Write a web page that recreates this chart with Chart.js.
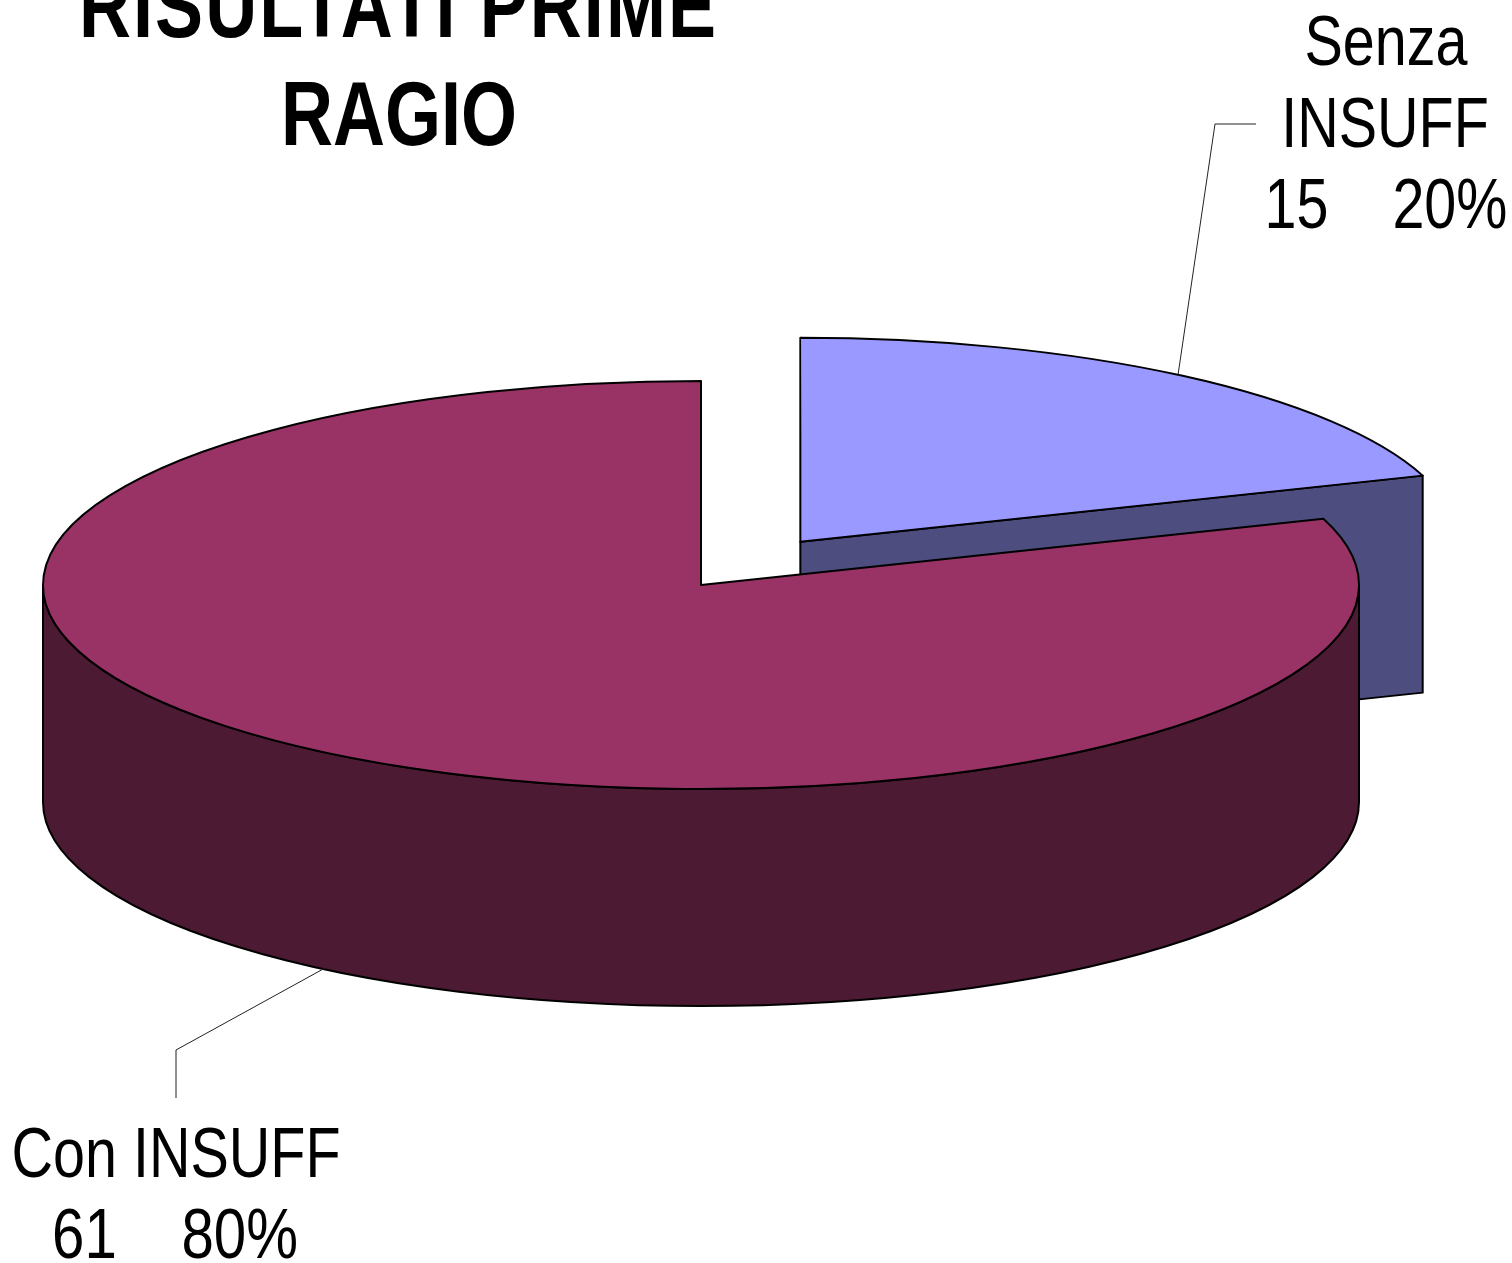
<!DOCTYPE html>
<html><head><meta charset="utf-8">
<style>html,body{margin:0;padding:0;background:#fff;overflow:hidden}canvas{display:block}</style>
<script src="https://cdn.jsdelivr.net/npm/chart.js@4"></script>
</head><body><canvas id="c" width="1512" height="1263"></canvas>
<script>
const categories = ['Senza INSUFF', 'Con INSUFF'];
const values = [15, 61];
const percents = ['20%', '80%'];
const titleLines = ['RISULTATI PRIME', 'RAGIO'];
const topColors = ['#9999FF', '#993366'];
const wallColors = ['#4D4D80', '#4D1A33'];
const explode = [212, 0];
const RY = 204, SX = 658 / 204, DEPTH = 217;

function geom(el) {
  const off = (el.options.offset || 0) / 4, mid = (el.startAngle + el.endAngle) / 2;
  const cx = el.x + Math.cos(mid) * off * SX, cy = el.y + Math.sin(mid) * off;
  return {cx, cy, a0: el.startAngle, a1: el.endAngle};
}
function pt(g, a, dy) { return [g.cx + Math.cos(a) * RY * SX, g.cy + Math.sin(a) * RY + (dy || 0)]; }
function stroke(ctx) { ctx.lineWidth = 2; ctx.strokeStyle = '#000'; ctx.lineJoin = 'round'; ctx.stroke(); }
function outline(ctx, g) {
  ctx.beginPath(); ctx.moveTo(g.cx, g.cy);
  ctx.ellipse(g.cx, g.cy, RY * SX, RY, 0, g.a0, g.a1);
  ctx.closePath(); stroke(ctx);
}
function label(ctx, str, x, y, narrow, spacing) {
  ctx.save(); ctx.letterSpacing = (spacing || 0) + 'px';
  ctx.translate(x, y); ctx.scale(narrow, 1); ctx.fillText(str, 0, 0); ctx.restore();
}
const pie3d = {
  id: 'pie3d',
  afterDatasetsUpdate(chart) {
    chart.getDatasetMeta(0).data.forEach(el => {
      const off = (el.options.offset || 0) / 4;
      el.outerRadius = RY - off * (1 - Math.sin(Math.min(Math.PI, el.circumference)));
    });
  },
  beforeDatasetsDraw(chart) {
    const ctx = chart.ctx, arcs = chart.getDatasetMeta(0).data;
    const b = geom(arcs[0]);
    const p = pt(b, b.a1), q = pt(b, b.a1, DEPTH);
    ctx.save();
    ctx.beginPath(); ctx.moveTo(b.cx, b.cy); ctx.lineTo(p[0], p[1]); ctx.lineTo(q[0], q[1]); ctx.lineTo(b.cx, b.cy + DEPTH); ctx.closePath();
    ctx.fillStyle = wallColors[0]; ctx.fill(); stroke(ctx);
    const m = geom(arcs[1]);
    ctx.beginPath();
    ctx.ellipse(m.cx, m.cy, RY * SX, RY, 0, 0, Math.PI);
    ctx.lineTo(m.cx - RY * SX, m.cy + DEPTH);
    ctx.ellipse(m.cx, m.cy + DEPTH, RY * SX, RY, 0, Math.PI, 0, true);
    ctx.closePath();
    ctx.fillStyle = wallColors[1]; ctx.fill(); stroke(ctx);
    ctx.lineWidth = 1; ctx.strokeStyle = '#222';
    ctx.beginPath(); ctx.moveTo(1178, 375); ctx.lineTo(1215, 124); ctx.lineTo(1256, 124); ctx.stroke();
    ctx.beginPath(); ctx.moveTo(325, 968); ctx.lineTo(176, 1050); ctx.lineTo(176, 1098); ctx.stroke();
    ctx.restore();
    const e = arcs[1];
    ctx.save();
    ctx.translate(e.x, e.y); ctx.scale(SX, 1); ctx.translate(-e.x, -e.y);
  },
  afterDatasetsDraw(chart) {
    const ctx = chart.ctx, arcs = chart.getDatasetMeta(0).data;
    ctx.restore();
    ctx.save();
    arcs.forEach(a => outline(ctx, geom(a)));
    ctx.fillStyle = '#000'; ctx.textAlign = 'center'; ctx.textBaseline = 'alphabetic';
    ctx.font = 'bold 90px "Liberation Sans"';
    label(ctx, titleLines[0], 398.5, 37, 0.8, 2.6);
    label(ctx, titleLines[1], 399, 145, 0.8);
    ctx.font = '71px "Liberation Sans"';
    const w = categories[0].split(' ');
    label(ctx, w[0], 1386, 65, 0.81);
    label(ctx, w[1], 1385, 147, 0.81);
    label(ctx, values[0] + '    ' + percents[0], 1386, 228, 0.81);
    label(ctx, categories[1], 176, 1177, 0.81);
    label(ctx, values[1] + '    ' + percents[1], 175, 1258, 0.82);
    ctx.restore();
  }
};
new Chart(document.getElementById('c'), {
  type: 'pie',
  data: {labels: categories, datasets: [{data: values, backgroundColor: topColors, borderWidth: 0, offset: explode, clip: false}]},
  options: {
    responsive: false, animation: false, events: [],
    radius: RY,
    layout: {padding: {right: 110, bottom: 93}},
    plugins: {legend: {display: false}, tooltip: {enabled: false}}
  },
  plugins: [pie3d]
});
</script></body></html>
